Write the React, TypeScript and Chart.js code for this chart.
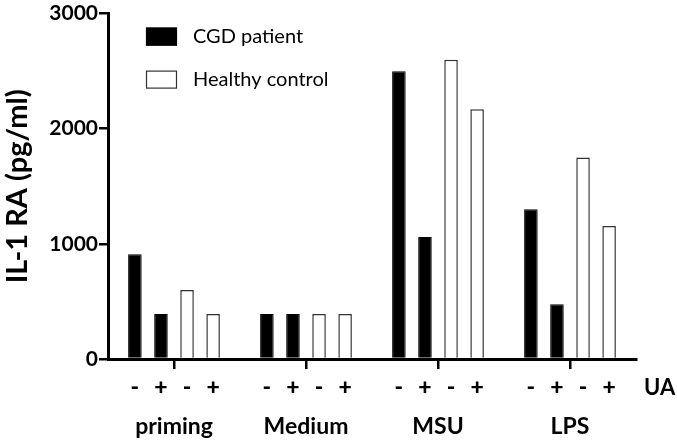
import React, { useEffect, useRef } from "react";
import { Chart, registerables } from "chart.js";

Chart.register(...registerables);

const groups = ["priming", "Medium", "MSU", "LPS"];
const cgdMinusUA = [910, 390, 2500, 1300];
const cgdPlusUA = [390, 390, 1060, 475];
const healthyMinusUA = [600, 390, 2600, 1750];
const healthyPlusUA = [390, 390, 2170, 1155];
const uaSigns = ["-", "+", "-", "+"];
const yTicks = [0, 1000, 2000, 3000];
const FONT = "Lato, 'Open Sans', sans-serif";

const overlayPlugin = {
  id: "overlay",
  afterDraw(chart: any) {
    const ctx = chart.ctx;
    const area = chart.chartArea;
    const xs = chart.scales.x;
    ctx.save();
    // UA +/- labels under each bar
    ctx.fillStyle = "#000";
    ctx.font = `900 23px ${FONT}`;
    ctx.textAlign = "center";
    ctx.textBaseline = "middle";
    const signY = xs.top + 29;
    chart.data.datasets.forEach((ds: any, i: number) => {
      const meta = chart.getDatasetMeta(i);
      meta.data.forEach((el: any) => {
        ctx.fillText(uaSigns[i], el.x, signY);
      });
    });
    ctx.textAlign = "left";
    ctx.font = `bold 22px ${FONT}`;
    ctx.fillText("UA", area.right + 8, signY);

    // legend
    const entries = [0, 2];
    ctx.font = `20px ${FONT}`;
    entries.forEach((di, k) => {
      const ds = chart.data.datasets[di];
      const bx = area.left + 38;
      const by = area.top + 14 + k * 43;
      ctx.fillStyle = ds.backgroundColor;
      ctx.fillRect(bx, by, 31, 18);
      ctx.strokeStyle = ds.borderColor;
      ctx.lineWidth = 1.2;
      ctx.strokeRect(bx + 0.5, by + 0.5, 30, 17);
      ctx.fillStyle = "#000";
      ctx.textAlign = "left";
      ctx.textBaseline = "middle";
      ctx.fillText(ds.label, area.left + 85, by + 9);
    });
    ctx.restore();
  },
};

export default function App() {
  const canvasRef = useRef<HTMLCanvasElement | null>(null);

  useEffect(() => {
    document.body.style.margin = "0";
    const canvas = canvasRef.current;
    if (!canvas) return;
    const black = "#000000";
    const white = "#ffffff";
    const chart = new Chart(canvas, {
      type: "bar",
      data: {
        labels: groups,
        datasets: [
          { label: "CGD patient", data: cgdMinusUA, backgroundColor: black, borderColor: black, borderWidth: 1 },
          { label: "CGD patient", data: cgdPlusUA, backgroundColor: black, borderColor: black, borderWidth: 1 },
          { label: "Healthy control", data: healthyMinusUA, backgroundColor: white, borderColor: "#333333", borderWidth: 1.5 },
          { label: "Healthy control", data: healthyPlusUA, backgroundColor: white, borderColor: "#333333", borderWidth: 1.5 },
        ],
      },
      options: {
        animation: false,
        responsive: false,
        maintainAspectRatio: false,
        layout: { padding: { top: 11, right: 41, left: 0, bottom: 0 } },
        datasets: {
          bar: { categoryPercentage: 0.79, barPercentage: 0.52 },
        },
        plugins: {
          legend: { display: false },
          tooltip: { enabled: false },
        },
        scales: {
          x: {
            offset: true,
            grid: {
              offset: false,
              drawOnChartArea: false,
              drawTicks: true,
              tickLength: 10,
              color: "#000",
              lineWidth: 2.5,
            },
            border: { display: true, color: "#000", width: 3 },
            ticks: {
              color: "#000",
              font: { family: FONT, size: 23, weight: "bold" },
              padding: 44,
            },
            afterFit(scale: any) {
              scale.height = 82;
            },
          },
          y: {
            min: 0,
            max: 3000,
            afterBuildTicks(scale: any) {
              scale.ticks = yTicks.map((v) => ({ value: v }));
            },
            grid: {
              drawOnChartArea: false,
              drawTicks: true,
              tickLength: 9,
              color: "#000",
              lineWidth: 2.5,
            },
            border: { display: true, color: "#000", width: 3 },
            ticks: {
              color: "#000",
              font: { family: FONT, size: 21, weight: "bold" },
              padding: 1,
              callback: (v: any) => String(v),
            },
            title: {
              display: true,
              text: "IL-1 RA (pg/ml)",
              color: "#000",
              font: { family: FONT, size: 29, weight: "bold" },
              padding: { top: 0, bottom: 6 },
            },
            afterFit(scale: any) {
              scale.width = 108;
            },
          },
        },
      },
      plugins: [overlayPlugin],
    });
    return () => chart.destroy();
  }, []);

  return (
    <div style={{ width: 677, height: 441 }}>
      <canvas ref={canvasRef} width={677} height={441} style={{ display: "block", width: 677, height: 441 }} />
    </div>
  );
}
